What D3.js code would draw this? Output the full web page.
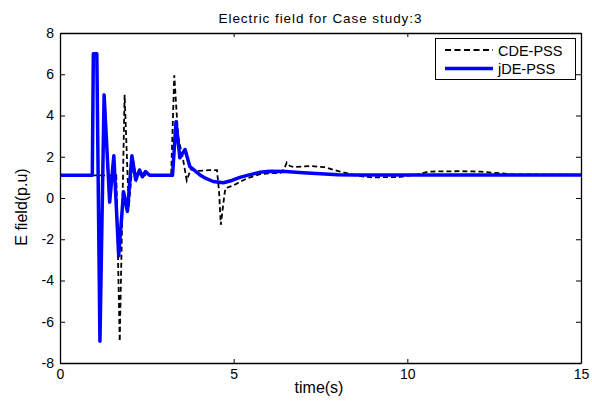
<!DOCTYPE html>
<html>
<head>
<meta charset="utf-8">
<script src="https://cdn.jsdelivr.net/npm/d3@7"></script>
<style>
  body { margin: 0; background: #fff; }
  text { font-family: "Liberation Sans", Arial, Helvetica, sans-serif; fill: #000; }
  .axis path, .axis line { stroke: #000; }
</style>
</head>
<body>
<svg id="chart" width="592" height="402"></svg>
<script>
// CDE-PSS (black dashed)
var cdeTime  = [0, 1.62, 1.72, 1.86, 1.98, 2.1, 2.2, 2.3, 2.4, 2.5, 2.6, 3.2, 3.29, 3.4, 3.55, 3.65, 3.76, 4.0, 4.3, 4.52, 4.58, 4.63, 4.7, 4.76, 5.0, 5.38, 5.76, 6.05, 6.35, 6.45, 6.53, 6.62, 6.75, 7.2, 7.6, 8.06, 8.6, 9.0, 9.8, 10.3, 10.6, 11.5, 12.1, 13.0, 15];
var cdeValue = [1.1, 1.1, -6.95, 5.0, -0.45, 1.9, 0.9, 1.3, 1.05, 1.15, 1.1, 1.1, 5.95, 3.0, 1.8, 0.85, 1.38, 1.32, 1.35, 1.35, 0.3, -1.3, -0.3, 0.47, 0.62, 0.95, 1.16, 1.2, 1.22, 1.4, 1.72, 1.55, 1.5, 1.55, 1.5, 1.28, 1.07, 1.0, 1.02, 1.15, 1.28, 1.3, 1.28, 1.15, 1.12];

// jDE-PSS (blue solid)
var jdeTime  = [0, 0.93, 0.96, 1.06, 1.15, 1.27, 1.43, 1.55, 1.69, 1.83, 1.94, 2.07, 2.18, 2.29, 2.37, 2.46, 2.58, 3.24, 3.34, 3.45, 3.6, 3.74, 3.9, 4.03, 4.2, 4.41, 4.7, 4.95, 5.18, 5.45, 5.76, 6.05, 6.5, 7.0, 7.5, 8.0, 8.5, 15];
var jdeValue = [1.1, 1.1, 7.0, 7.0, -6.95, 5.0, -0.2, 2.05, -2.8, 0.3, -0.65, 2.05, 0.87, 1.36, 1.03, 1.28, 1.1, 1.1, 3.7, 1.95, 2.35, 1.52, 1.3, 1.12, 0.95, 0.8, 0.74, 0.85, 1.0, 1.12, 1.25, 1.3, 1.28, 1.22, 1.17, 1.13, 1.11, 1.11];

var xTicks = [0, 5, 10, 15];
var yTicks = [-8, -6, -4, -2, 0, 2, 4, 6, 8];
var seriesNames = ["CDE-PSS", "jDE-PSS"];

var svg = d3.select("#chart");
var mLeft = 60, mRight = 581, mTop = 33, mBottom = 363;

var x = d3.scaleLinear().domain([0, 15]).range([mLeft, mRight]);
var y = d3.scaleLinear().domain([-8, 8]).range([mBottom, mTop]);

var cde = cdeTime.map(function(t, i){ return {t: t, v: cdeValue[i]}; });
var jde = jdeTime.map(function(t, i){ return {t: t, v: jdeValue[i]}; });

var line = d3.line()
	.x(function(d){ return x(d.t); })
	.y(function(d){ return y(d.v); });

svg.append("path")
	.attr("d", line(cde))
	.attr("fill", "none")
	.attr("stroke", "#000")
	.attr("stroke-width", 1.8)
	.attr("stroke-dasharray", "5,3");

svg.append("path")
	.attr("d", line(jde))
	.attr("fill", "none")
	.attr("stroke", "#0000ff")
	.attr("stroke-width", 3.5)
	.attr("stroke-linejoin", "round");

// plain hyphen for negatives, like the matlab labels
var fmt = function(d){ return String(d); };

// box axes, ticks inside like matlab
svg.append("g").attr("class", "axis")
	.attr("transform", "translate(0," + mBottom + ")")
	.call(d3.axisBottom(x).tickValues(xTicks).tickFormat(fmt).tickSizeInner(-4).tickSizeOuter(0).tickPadding(6))
	.selectAll("text").style("font-size", "14px");
svg.append("g").attr("class", "axis")
	.attr("transform", "translate(0," + mTop + ")")
	.call(d3.axisTop(x).tickValues(xTicks).tickSizeInner(-4).tickSizeOuter(0).tickFormat(""));
svg.append("g").attr("class", "axis")
	.attr("transform", "translate(" + mLeft + ",0)")
	.call(d3.axisLeft(y).tickValues(yTicks).tickFormat(fmt).tickSizeInner(-5).tickSizeOuter(0).tickPadding(6))
	.selectAll("text").style("font-size", "14px");
svg.append("g").attr("class", "axis")
	.attr("transform", "translate(" + mRight + ",0)")
	.call(d3.axisRight(y).tickValues(yTicks).tickSizeInner(-5).tickSizeOuter(0).tickFormat(""));
svg.selectAll(".axis path").attr("stroke-width", 1.3);

svg.append("text")
	.attr("x", 320).attr("y", 23)
	.attr("text-anchor", "middle")
	.style("font-size", "13.5px")
	.attr("textLength", 203)
	.text("Electric field for Case study:3");

svg.append("text")
	.attr("x", 319).attr("y", 393)
	.attr("text-anchor", "middle")
	.style("font-size", "16px")
	.text("time(s)");

svg.append("text")
	.attr("transform", "translate(27,207) rotate(-90)")
	.attr("text-anchor", "middle")
	.style("font-size", "16px")
	.text("E field(p.u)");

// legend
var lg = svg.append("g");
lg.append("rect")
	.attr("x", 435.5).attr("y", 38.5).attr("width", 140).attr("height", 41)
	.attr("fill", "#fff").attr("stroke", "#000").attr("stroke-width", 1);
seriesNames.forEach(function(name, i){
	var ly = 50 + i * 18.5;
	lg.append("line")
		.attr("x1", 445).attr("x2", 493).attr("y1", ly).attr("y2", ly)
		.attr("stroke", i == 0 ? "#000" : "#0000ff")
		.attr("stroke-width", i == 0 ? 1.8 : 3.5)
		.attr("stroke-dasharray", i == 0 ? "6,3.5" : null);
	lg.append("text")
		.attr("x", 498).attr("y", ly + 5.5)
		.style("font-size", "14.5px")
		.text(name);
});
</script>
</body>
</html>
